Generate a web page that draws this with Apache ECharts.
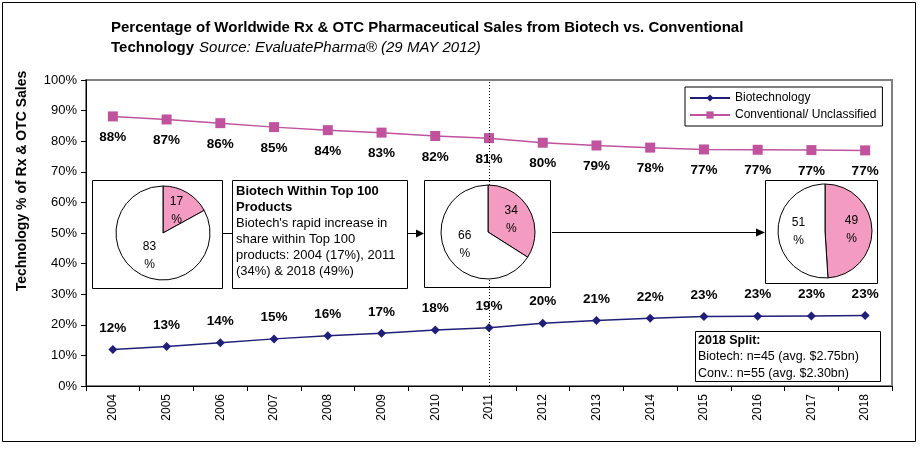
<!DOCTYPE html>
<html><head><meta charset="utf-8">
<script src="https://cdn.jsdelivr.net/npm/echarts@6/dist/echarts.min.js"></script>
<style>html,body{margin:0;padding:0;background:#fff}#c{width:923px;height:452px}</style>
</head><body><div id="c"></div>
<script>
var years = ['2004','2005','2006','2007','2008','2009','2010','2011','2012','2013','2014','2015','2016','2017','2018'];
var biotech = [11.9,12.9,14.1,15.4,16.4,17.2,18.3,19.0,20.5,21.4,22.1,22.7,22.8,22.9,23.0];
var conventional = [88.1,87.1,85.9,84.6,83.6,82.8,81.7,81.0,79.5,78.6,77.9,77.3,77.2,77.1,77.0];
var biotechLabels = ['12%','13%','14%','15%','16%','17%','18%','19%','20%','21%','22%','23%','23%','23%','23%'];
var convLabels = ['88%','87%','86%','85%','84%','83%','82%','81%','80%','79%','78%','77%','77%','77%','77%'];
var yTicks = ['0%','10%','20%','30%','40%','50%','60%','70%','80%','90%','100%'];
var pie2004 = [17, 83];
var pie2011 = [34, 66];
var pie2018 = [49, 51];

var FONT = '"Liberation Sans", Arial, sans-serif';
var PINK = '#F39BC1';

function pieSeries(vals, cx, cy) {
  return {
    type: 'pie', silent: true, z: 10, center: [cx, cy], radius: 47,
    startAngle: 90, clockwise: true, animation: false,
    label: { show: true, position: 'inside', formatter: '{c}\n%', color: '#000',
             fontFamily: FONT, fontSize: 12, lineHeight: 18 },
    labelLine: { show: false },
    itemStyle: { borderColor: '#000', borderWidth: 1 },
    data: [
      { value: vals[0], name: 'Biotech share', itemStyle: { color: PINK } },
      { value: vals[1], name: 'Conventional share', itemStyle: { color: '#fff' } }
    ]
  };
}

var chart = echarts.init(document.getElementById('c'), null, { renderer: 'canvas' });
chart.setOption({
  animation: false,
  backgroundColor: '#fff',
  textStyle: { fontFamily: FONT },
  title: {
    left: 106, top: 13,
    text: '{b|Percentage of Worldwide Rx & OTC Pharmaceutical Sales from Biotech vs. Conventional}\n{b|Technology} {i|Source: EvaluatePharma® (29 MAY 2012)}',
    textStyle: {
      rich: {
        b: { fontFamily: FONT, fontWeight: 'bold', fontSize: 15, color: '#000', lineHeight: 20 },
        i: { fontFamily: FONT, fontStyle: 'italic', fontWeight: 'normal', fontSize: 15, color: '#000', lineHeight: 20 }
      }
    }
  },
  legend: {
    data: ['Biotechnology', 'Conventional/ Unclassified'],
    orient: 'vertical', left: 685, top: 87,
    backgroundColor: '#fff', borderColor: '#000', borderWidth: 1,
    padding: [5, 6, 5, 4], itemGap: 5, itemWidth: 40, itemHeight: 9,
    textStyle: { fontFamily: FONT, fontSize: 12, color: '#000' }
  },
  grid: { left: 86, top: 80, right: 31, bottom: 66, show: true, borderColor: '#808080', borderWidth: 2, backgroundColor: 'transparent' },
  xAxis: {
    type: 'category', data: years, boundaryGap: true,
    axisLine: { lineStyle: { color: '#000', width: 1 } },
    axisTick: { show: true, length: 5, lineStyle: { color: '#000' } },
    axisLabel: { rotate: 90, color: '#000', fontFamily: FONT, fontSize: 12, margin: 8 }
  },
  yAxis: {
    type: 'value', min: 0, max: 100, interval: 10,
    axisLine: { show: true, lineStyle: { color: '#000', width: 1 } },
    axisTick: { show: true, length: 5, lineStyle: { color: '#000' } },
    splitLine: { show: false },
    axisLabel: { color: '#000', fontFamily: FONT, fontSize: 13, margin: 9,
      formatter: function (v) { return yTicks[Math.round(v / 10)]; } }
  },
  graphic: [
    { type: 'rect', shape: { x: 2.5, y: 2.5, width: 913, height: 439 }, style: { fill: 'none', stroke: '#000', lineWidth: 1 }, z: 1 },
    { type: 'text', x: 22, y: 181, rotation: Math.PI / 2, z: 5,
      style: { text: 'Technology % of Rx & OTC Sales', font: 'bold 14px ' + FONT, fill: '#000', align: 'center', verticalAlign: 'middle' } },
    { type: 'rect', shape: { x: 92.5, y: 180.5, width: 130, height: 108 }, style: { fill: '#fff', stroke: '#000', lineWidth: 1 }, z: 5 },
    { type: 'rect', shape: { x: 232.5, y: 180.5, width: 175, height: 108 }, style: { fill: '#fff', stroke: '#000', lineWidth: 1 }, z: 5 },
    { type: 'rect', shape: { x: 424.5, y: 180.5, width: 126, height: 107 }, style: { fill: '#fff', stroke: '#000', lineWidth: 1 }, z: 5 },
    { type: 'rect', shape: { x: 765.5, y: 180.5, width: 112, height: 103 }, style: { fill: '#fff', stroke: '#000', lineWidth: 1 }, z: 5 },
    { type: 'line', shape: { x1: 222.5, y1: 233.5, x2: 232.5, y2: 233.5 }, style: { stroke: '#000', lineWidth: 1 }, z: 5 },
    { type: 'line', shape: { x1: 407.5, y1: 233.5, x2: 417, y2: 233.5 }, style: { stroke: '#000', lineWidth: 1 }, z: 5 },
    { type: 'polygon', shape: { points: [[416, 229.5], [424, 233.5], [416, 237.5]] }, style: { fill: '#000' }, z: 5 },
    { type: 'line', shape: { x1: 552, y1: 232.5, x2: 757, y2: 232.5 }, style: { stroke: '#000', lineWidth: 1 }, z: 5 },
    { type: 'polygon', shape: { points: [[756, 228.5], [765, 232.5], [756, 236.5]] }, style: { fill: '#000' }, z: 5 },
    { type: 'text', x: 236, y: 183, z: 6,
      style: {
        text: '{b|Biotech Within Top 100}\n{b|Products}\n{n|Biotech\'s rapid increase in}\n{n|share within Top 100}\n{n|products: 2004 (17%), 2011}\n{n|(34%) & 2018 (49%)}',
        rich: {
          b: { font: 'bold 13px ' + FONT, fill: '#000', lineHeight: 16 },
          n: { font: '13px ' + FONT, fill: '#000', lineHeight: 16 }
        }
      } },
    { type: 'rect', shape: { x: 695.5, y: 331.5, width: 185, height: 50 }, style: { fill: '#fff', stroke: '#000', lineWidth: 1 }, z: 5 },
    { type: 'text', x: 698, y: 332, z: 6,
      style: {
        text: '{b|2018 Split:}\n{n|Biotech: n=45 (avg. $2.75bn)}\n{n|Conv.: n=55 (avg. $2.30bn)}',
        rich: {
          b: { font: 'bold 12.5px ' + FONT, fill: '#000', lineHeight: 16.5 },
          n: { font: '12.5px ' + FONT, fill: '#000', lineHeight: 16.5 }
        }
      } }
  ],
  series: [
    {
      name: 'Biotechnology', type: 'line', data: biotech, z: 3,
      symbol: 'diamond', symbolSize: 9,
      lineStyle: { color: '#1F1F7A', width: 1.5 },
      itemStyle: { color: '#1F1F7A' },
      label: { show: true, position: 'top', distance: 10,
        formatter: function (p) { return biotechLabels[p.dataIndex]; },
        fontFamily: FONT, fontWeight: 'bold', fontSize: 13.5, color: '#000' }
    },
    {
      name: 'Conventional/ Unclassified', type: 'line', data: conventional, z: 3,
      symbol: 'rect', symbolSize: 10,
      lineStyle: { color: '#C0529E', width: 1.5 },
      itemStyle: { color: '#C0529E' },
      label: { show: true, position: 'bottom', distance: 9,
        formatter: function (p) { return convLabels[p.dataIndex]; },
        fontFamily: FONT, fontWeight: 'bold', fontSize: 13.5, color: '#000' },
      markLine: {
        silent: true, symbol: 'none', label: { show: false },
        lineStyle: { color: '#000', type: [1, 2], width: 1 },
        data: [{ xAxis: '2011' }]
      }
    },
    pieSeries(pie2004, 163, 233),
    pieSeries(pie2011, 488, 232),
    pieSeries(pie2018, 825, 231)
  ]
});
</script>
</body></html>
